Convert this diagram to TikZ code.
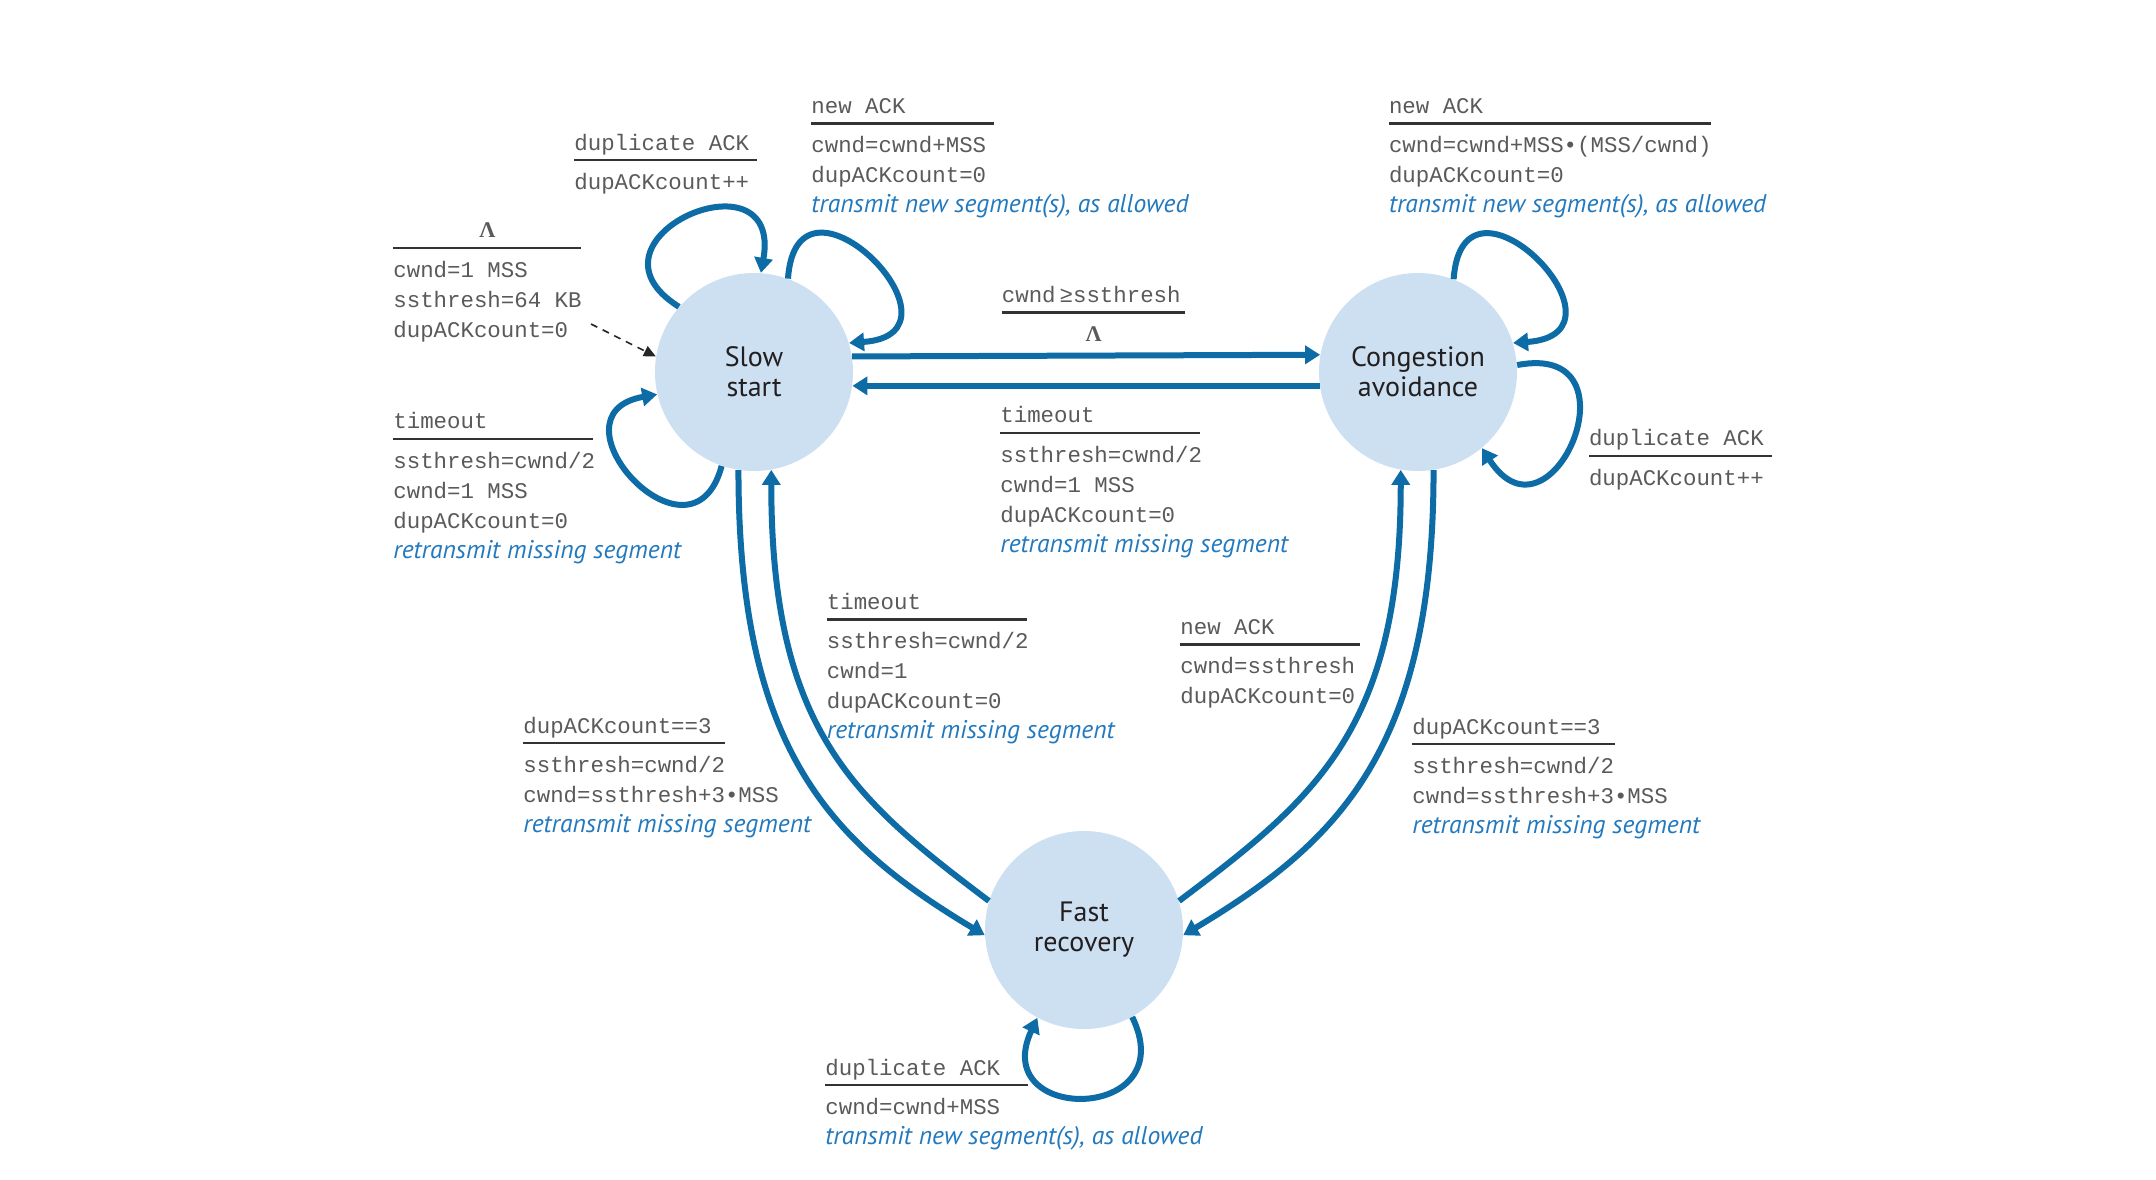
\documentclass[tikz,border=0pt]{standalone}
\usepackage{fontspec}
\usetikzlibrary{arrows.meta}

\newfontfamily\monofont{Liberation Mono}
\newfontfamily\statefont{PT Sans}
\newfontfamily\lamfont{Liberation Serif}

\definecolor{statefill}{HTML}{CCE0F1}
\definecolor{arrowblue}{HTML}{0D6BA6}
\definecolor{actblue}{HTML}{2279BE}
\definecolor{monogray}{HTML}{5A5A5A}
\definecolor{rulegray}{HTML}{333333}
\definecolor{statetext}{HTML}{231F20}

% transition label: event line, rule, then one line per action
\newcommand\fsmhead[2]{\hbox{\smash{#2}}\kern4.5pt\hbox{\textcolor{rulegray}{\rule{#1}{1.1pt}}}\kern14.15pt}
\newcommand\fsmline[1]{\hbox{\smash{#1}}\kern15pt}
\newcommand\fsmact[1]{\fsmline{\textcolor{actblue}{\statefont\fontsize{12.8}{14}\selectfont\itshape #1}}}
\newcommand\lam{{\lamfont\bfseries Λ}}

\begin{document}
\begin{tikzpicture}[x=0.5pt,y=0.5pt,
  state/.style={circle, fill=statefill, minimum size=99pt, inner sep=0pt,
    align=center, text=statetext, font=\statefont\fontsize{14}{15}\selectfont},
  fsmlabel/.style={inner sep=0pt, anchor=base west, text=monogray,
    font=\monofont\fontsize{11.2}{15}\selectfont},
  trans/.style={draw=arrowblue, line width=3pt, -{Triangle[length=7.5pt,width=9pt]}},
  initarrow/.style={draw=black!85, line width=0.8pt, dash pattern=on 3.5pt off 3pt,
    -{Triangle[length=6pt,width=5.5pt]}}]

\fill[white] (0,0) rectangle (2156,-1179);
\useasboundingbox (0,0) rectangle (2156,-1179);

% states
\node[state] (ss) at (754,-372) {Slow\\start};
\node[state] (ca) at (1418,-372) {Congestion\\avoidance};
\node[state] (fr) at (1084,-930) {Fast\\recovery};

% initial transition
\coordinate (initsrc) at (591,-324);
\draw[initarrow] (initsrc) -- (ss.171);

% transitions between slow start and congestion avoidance
\draw[trans] (ss.9.3) -- (ca.170.7);
\draw[trans] (ca.188.5) -- (ss.-8.5);

% self loops
\draw[trans] (ss.139) .. controls +(148:128) and +(80:128) .. (ss.86);
\draw[trans] (ss.70) .. controls +(86:130) and +(4:130) .. (ss.17);
\draw[trans] (ss.251) .. controls +(255:116) and +(190:116) .. (ss.193);
\draw[trans] (ca.69) .. controls +(86:130) and +(4:130) .. (ca.17);
\draw[trans] (ca.4) .. controls +(11:128) and +(-57:128) .. (ca.-50.6);
\draw[trans] (fr.-61) .. controls +(-64:118) and +(245:118) .. (fr.-118.6);

% transitions to and from fast recovery
\draw[trans] (ss.261) .. controls +(270:280) and +(149:180) .. (fr.183);
\draw[trans] (fr.163) .. controls +(143:170) and +(270:260) .. (ss.280);
\draw[trans] (ca.279) .. controls +(270:280) and +(31:180) .. (fr.-3);
\draw[trans] (fr.17) .. controls +(37:170) and +(270:260) .. (ca.260);

% labels
\node[fsmlabel] (l-init) at (393,-237.5) {\vtop{\offinterlineskip
  \fsmhead{94pt}{\hbox to 94pt{\hss\lam\hss}}
  \fsmline{cwnd=1 MSS}
  \fsmline{ssthresh=64 KB}
  \fsmline{dupACKcount=0}}};

\node[fsmlabel] (l-ss-dup) at (574,-150) {\vtop{\offinterlineskip
  \fsmhead{91.3pt}{duplicate ACK}
  \fsmline{dupACKcount++}}};

\node[fsmlabel] (l-ss-new) at (811,-113.3) {\vtop{\offinterlineskip
  \fsmhead{91.3pt}{new ACK}
  \fsmline{cwnd=cwnd+MSS}
  \fsmline{dupACKcount=0}
  \fsmact{transmit new segment(s), as allowed}}};

\node[fsmlabel] (l-ss-to) at (393,-428.5) {\vtop{\offinterlineskip
  \fsmhead{100pt}{timeout}
  \fsmline{ssthresh=cwnd/2}
  \fsmline{cwnd=1 MSS}
  \fsmline{dupACKcount=0}
  \fsmact{retransmit missing segment}}};

\node[fsmlabel] (l-ss-ca) at (1001.5,-302.3) {\vtop{\offinterlineskip
  \fsmhead{91.7pt}{cwnd\kern2pt≥ssthresh}
  \fsmline{\hbox to 91.7pt{\hss\lam\hss}}}};

\node[fsmlabel] (l-ca-ss) at (1000,-422.7) {\vtop{\offinterlineskip
  \fsmhead{100pt}{timeout}
  \fsmline{ssthresh=cwnd/2}
  \fsmline{cwnd=1 MSS}
  \fsmline{dupACKcount=0}
  \fsmact{retransmit missing segment}}};

\node[fsmlabel] (l-ca-new) at (1388.6,-113.3) {\vtop{\offinterlineskip
  \fsmhead{161pt}{new ACK}
  \fsmline{cwnd=cwnd+MSS•(MSS/cwnd)}
  \fsmline{dupACKcount=0}
  \fsmact{transmit new segment(s), as allowed}}};

\node[fsmlabel] (l-ca-dup) at (1588.6,-445.7) {\vtop{\offinterlineskip
  \fsmhead{91.4pt}{duplicate ACK}
  \fsmline{dupACKcount++}}};

\node[fsmlabel] (l-ss-fr) at (523,-733) {\vtop{\offinterlineskip
  \fsmhead{101pt}{dupACKcount==3}
  \fsmline{ssthresh=cwnd/2}
  \fsmline{cwnd=ssthresh+3•MSS}
  \fsmact{retransmit missing segment}}};

\node[fsmlabel] (l-fr-ss) at (826.5,-609.3) {\vtop{\offinterlineskip
  \fsmhead{100pt}{timeout}
  \fsmline{ssthresh=cwnd/2}
  \fsmline{cwnd=1}
  \fsmline{dupACKcount=0}
  \fsmact{retransmit missing segment}}};

\node[fsmlabel] (l-fr-ca) at (1180,-634.3) {\vtop{\offinterlineskip
  \fsmhead{90pt}{new ACK}
  \fsmline{cwnd=ssthresh}
  \fsmline{dupACKcount=0}}};

\node[fsmlabel] (l-ca-fr) at (1412,-734) {\vtop{\offinterlineskip
  \fsmhead{101.5pt}{dupACKcount==3}
  \fsmline{ssthresh=cwnd/2}
  \fsmline{cwnd=ssthresh+3•MSS}
  \fsmact{retransmit missing segment}}};

\node[fsmlabel] (l-fr-dup) at (825,-1075) {\vtop{\offinterlineskip
  \fsmhead{101.5pt}{duplicate ACK}
  \fsmline{cwnd=cwnd+MSS}
  \fsmact{transmit new segment(s), as allowed}}};

\end{tikzpicture}
\end{document}
